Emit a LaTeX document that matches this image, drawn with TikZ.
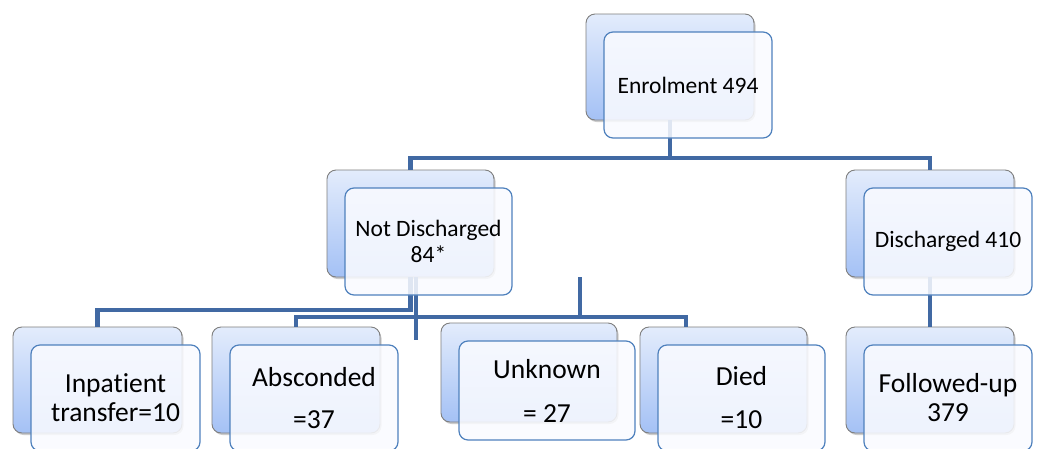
\documentclass[tikz,border=0pt]{standalone}
\usepackage{fontspec}
\setmainfont[Ligatures=NoCommon]{Carlito}
\usetikzlibrary{shadows}
\definecolor{linkblue}{HTML}{4169A3}
\definecolor{edgeblue}{HTML}{4F81BD}
\definecolor{backtop}{HTML}{E3ECFC}
\definecolor{backbot}{HTML}{A4C1F5}
\definecolor{backedge}{HTML}{7F7F7F}
\definecolor{frontfill}{HTML}{FAFBFF}
\newcommand\topsz{\fontsize{23.5}{26}\selectfont}
\newcommand\botsz{\fontsize{27.5}{29}\selectfont}

\begin{document}
\begin{tikzpicture}[x=1pt,y=-1pt,line join=miter,
  backbox/.style={rectangle,rounded corners=9pt,draw=backedge,line width=0.9pt,
    top color=backtop,bottom color=backbot,inner sep=0pt,
    drop shadow={shadow xshift=1.5pt,shadow yshift=-2pt,opacity=0.4}},
  frontbox/.style={rectangle,rounded corners=9pt,draw=edgeblue,line width=1.2pt,
    fill=frontfill,fill opacity=0.86,text opacity=1,inner sep=0pt,align=center},
  link/.style={linkblue,line width=4.2pt}]
  \fill[white] (0,0) rectangle (1037,448);
  \useasboundingbox (0,0) rectangle (1037,448);

  % ---- back boxes ----
  \foreach \nm/\cx/\cy/\bw/\bh in {enrol/670/67/168/106, notdis/410.5/223.5/167/107,
      dis/930/223.5/168/107, follow/930/380/168/106, inpat/97.5/380/169/106,
      absc/296/380/168/106, unkn/529/372.5/176/99, died/723.5/380/167/106}
    \node[backbox,minimum width=\bw pt,minimum height=\bh pt] (\nm B) at (\cx,\cy) {};

  % ---- connectors ----
  \coordinate (topbar) at (0,158);
  \coordinate (lowA) at (0,310);
  \coordinate (lowB) at (686,317);
  \coordinate (stray) at (580,277);
  \coordinate (stub) at (416,340);
  \draw[link] (enrolB.south) -- (enrolB.south |- topbar);
  \draw[link] (notdisB.north) |- (disB.north |- topbar) -- (disB.north);
  \draw[link] (disB.south) -- (followB.north);
  \draw[link] (notdisB.south) |- (inpatB.north |- lowA) -- (inpatB.north);
  \draw[link] ([xshift=5.5pt]notdisB.south) -- (stub);
  \draw[link] (abscB.north) |- (lowB) -- (lowB |- diedB.north);
  \draw[link] (stray) -- (stray |- lowB);

  % ---- front boxes with labels ----
  \foreach \nm/\bw/\bh/\fs/\txt in {enrol/168/106/\topsz/{Enrolment 494},
      notdis/167/107/\topsz/{Not Discharged\\84*},
      dis/168/107/\topsz/{Discharged 410},
      follow/168/106/\botsz/{Followed-up\\379},
      inpat/169/106/\botsz/{Inpatient\\transfer=10},
      absc/168/106/\botsz/{Absconded\\[13pt]=37},
      unkn/176/99/\botsz/{Unknown\\[15pt]= 27},
      died/167/106/\botsz/{Died\\[14pt]=10}}
    \node[frontbox,font=\fs,minimum width=\bw pt,minimum height=\bh pt,
      xshift=18pt,yshift=-18pt] (\nm) at (\nm B) {\txt};
\end{tikzpicture}
\end{document}
